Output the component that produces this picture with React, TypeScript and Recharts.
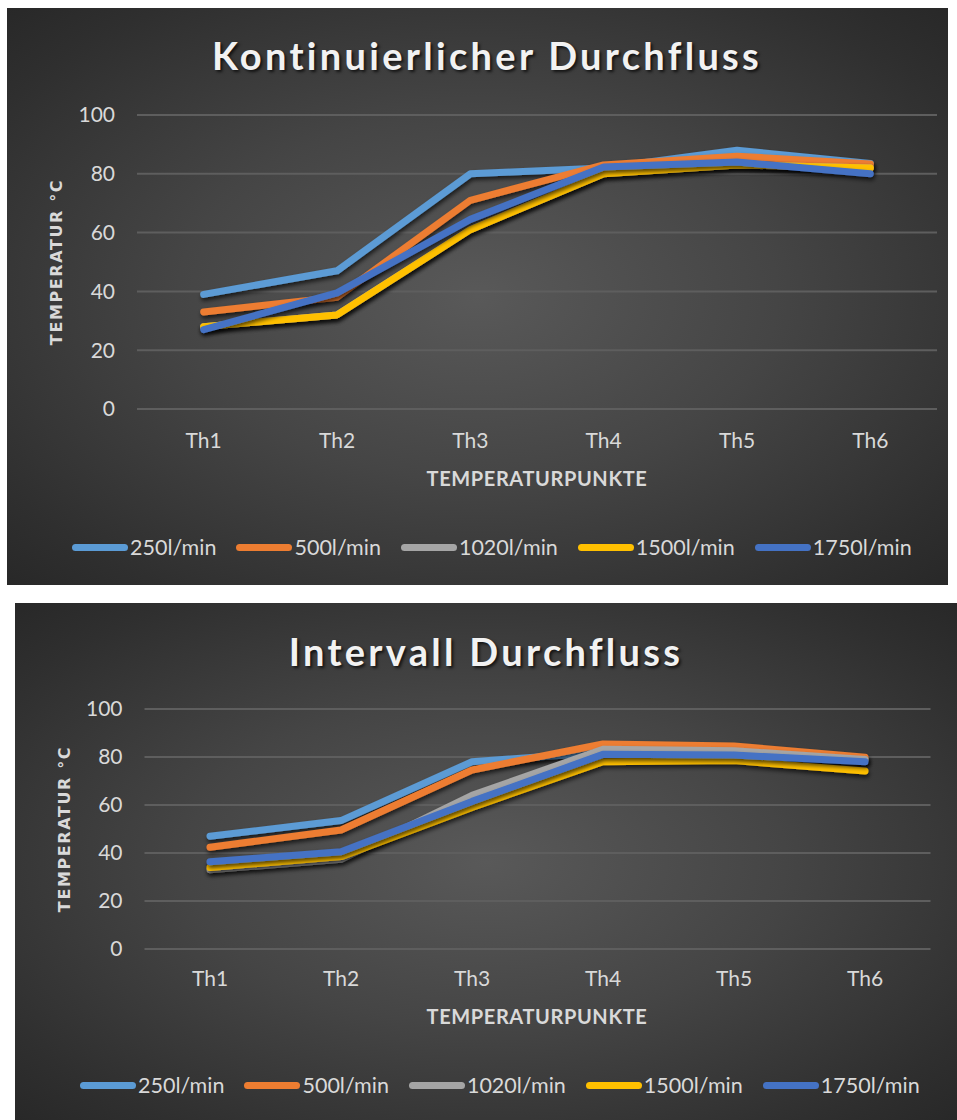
import React from 'react';
import { LineChart, Line, XAxis, YAxis, CartesianGrid } from 'recharts';

const categories = ['Th1', 'Th2', 'Th3', 'Th4', 'Th5', 'Th6'];
const seriesNames = ['250l/min', '500l/min', '1020l/min', '1500l/min', '1750l/min'];
const seriesKeys = ['s250', 's500', 's1020', 's1500', 's1750'];
const seriesColors = ['#5B9BD5', '#ED7D31', '#A5A5A5', '#FFC000', '#4472C4'];
const yTicks = [0, 20, 40, 60, 80, 100];

// Kontinuierlicher Durchfluss
const kont250 = [39, 47, 80, 82, 88, 83.5];
const kont500 = [33, 38, 71, 83, 86, 83.3];
const kont1020 = [28, 32, 61, 80, 83, 82];
const kont1500 = [28, 32, 61, 80, 83, 82];
const kont1750 = [27, 39.5, 64.5, 82.3, 84, 80];

// Intervall Durchfluss
const int250 = [47, 53.5, 78, 82, 82, 79];
const int500 = [42.4, 49.6, 74.6, 85.4, 84.6, 79.9];
const int1020 = [33, 37.4, 64, 83.2, 82.6, 79];
const int1500 = [34, 38.5, 59, 78, 78.5, 74.2];
const int1750 = [36.4, 40.5, 61.5, 81.1, 80.8, 78];

const buildRows = (series: number[][]) =>
  categories.map((c, i) => {
    const row: any = { name: c };
    seriesKeys.forEach((k, j) => {
      row[k] = series[j][i];
    });
    return row;
  });

const kontRows = buildRows([kont250, kont500, kont1020, kont1500, kont1750]);
const intRows = buildRows([int250, int500, int1020, int1500, int1750]);

const FONT = 'Lato, "Open Sans", sans-serif';
const Y_AXIS_W = 60;
const X_AXIS_H = 30;

type PanelProps = {
  id: string;
  title: string;
  rows: any[];
  left: number;
  top: number;
  width: number;
  height: number;
  margin: { top: number; right: number; bottom: number; left: number };
  titleTop: number;
  titleCenter: number;
  yLabelX: number;
  yLabelY: number;
  xLabelX: number;
  xLabelY: number;
  legendLeft: number;
  legendY: number;
  xTickMargin: number;
};

const LegendBox = ({ left, y }: { left: number; y: number }) => (
  <div
    style={{
      position: 'absolute',
      left,
      top: y - 14,
      height: 28,
      display: 'flex',
      alignItems: 'center',
      fontFamily: FONT,
      fontSize: 21.5,
      color: '#d9d9d9',
      whiteSpace: 'nowrap',
    }}
  >
    {seriesNames.map((n, i) => (
      <div key={n} style={{ display: 'flex', alignItems: 'center', marginRight: 20 }}>
        <div style={{ width: 56, height: 7, borderRadius: 4, background: seriesColors[i], marginRight: 2 }} />
        <span>{n}</span>
      </div>
    ))}
  </div>
);

const Panel = (p: PanelProps) => {
  const plotW = p.width - p.margin.left - Y_AXIS_W - p.margin.right;
  const pad = plotW / 12;
  return (
    <div
      style={{
        position: 'absolute',
        left: p.left,
        top: p.top,
        width: p.width,
        height: p.height,
        background: 'radial-gradient(ellipse at 50% 50%, #595959 0%, #454545 45%, #2f2f2f 85%, #282828 100%)',
        overflow: 'hidden',
      }}
    >
      <div
        style={{
          position: 'absolute',
          left: p.titleCenter - 400,
          width: 800,
          top: p.titleTop,
          textAlign: 'center',
          fontFamily: FONT,
          fontWeight: 700,
          fontSize: 38,
          letterSpacing: 3.3,
          color: '#f2f2f2',
          textShadow: '2px 2px 3px rgba(0,0,0,0.7)',
          lineHeight: '44px',
        }}
      >
        {p.title}
      </div>
      <div
        style={{
          position: 'absolute',
          left: p.yLabelX - 150,
          top: p.yLabelY - 12,
          width: 300,
          height: 24,
          lineHeight: '24px',
          textAlign: 'center',
          transform: 'rotate(-90deg)',
          fontFamily: '"DejaVu Sans", sans-serif',
          fontWeight: 700,
          fontSize: 16,
          letterSpacing: 1.6,
          color: '#d9d9d9',
        }}
      >
        TEMPERATUR °C
      </div>
      <div
        style={{
          position: 'absolute',
          left: p.xLabelX - 200,
          top: p.xLabelY - 12,
          width: 400,
          height: 24,
          lineHeight: '24px',
          textAlign: 'center',
          fontFamily: FONT,
          fontWeight: 700,
          fontSize: 20,
          letterSpacing: 0.6,
          color: '#d9d9d9',
        }}
      >
        TEMPERATURPUNKTE
      </div>
      <div style={{ position: 'absolute', left: 0, top: 0 }}>
        <LineChart width={p.width} height={p.height} data={p.rows} margin={p.margin}>
          <defs>
            <filter id={`sh-${p.id}`} x="-10%" y="-20%" width="120%" height="150%">
              <feDropShadow dx="1" dy="3" stdDeviation="2" floodColor="#000" floodOpacity="0.65" />
            </filter>
          </defs>
          <CartesianGrid vertical={false} stroke="#5e5e5e" strokeWidth={2} />
          <XAxis
            dataKey="name"
            axisLine={false}
            tickLine={false}
            height={X_AXIS_H}
            padding={{ left: pad, right: pad }}
            tick={{ fill: '#d9d9d9', fontSize: 21, fontFamily: FONT }}
            tickMargin={p.xTickMargin}
          />
          <YAxis
            domain={[0, 100]}
            ticks={yTicks}
            axisLine={false}
            tickLine={false}
            tickSize={0}
            width={Y_AXIS_W}
            tickMargin={22}
            tick={{ fill: '#d9d9d9', fontSize: 21, fontFamily: FONT }}
          />
          {seriesKeys.map((k, i) => (
            <Line
              key={k}
              dataKey={k}
              name={seriesNames[i]}
              stroke={seriesColors[i]}
              strokeWidth={7}
              strokeLinecap="round"
              strokeLinejoin="round"
              dot={false}
              activeDot={false}
              isAnimationActive={false}
              filter={`url(#sh-${p.id})`}
              type="linear"
            />
          ))}
        </LineChart>
      </div>
      <LegendBox left={p.legendLeft} y={p.legendY} />
    </div>
  );
};

export default function App() {
  return (
    <div style={{ position: 'absolute', left: 0, top: 0, width: 957, height: 1120, background: '#ffffff' }}>
      <Panel
        id="k"
        title="Kontinuierlicher Durchfluss"
        rows={kontRows}
        left={7}
        top={8}
        width={941}
        height={577}
        margin={{ top: 107, right: 11, bottom: 176 - X_AXIS_H, left: 70 }}
        titleTop={25}
        titleCenter={480}
        yLabelX={50}
        yLabelY={254}
        xLabelX={530}
        xLabelY={470}
        legendLeft={65}
        legendY={539}
        xTickMargin={18}
      />
      <Panel
        id="i"
        title="Intervall Durchfluss"
        rows={intRows}
        left={15}
        top={603}
        width={942}
        height={517}
        margin={{ top: 106, right: 26.5, bottom: 171 - X_AXIS_H, left: 69.5 }}
        titleTop={26}
        titleCenter={471}
        yLabelX={50}
        yLabelY={226}
        xLabelX={522}
        xLabelY={413}
        legendLeft={65}
        legendY={482}
        xTickMargin={16}
      />
    </div>
  );
}
